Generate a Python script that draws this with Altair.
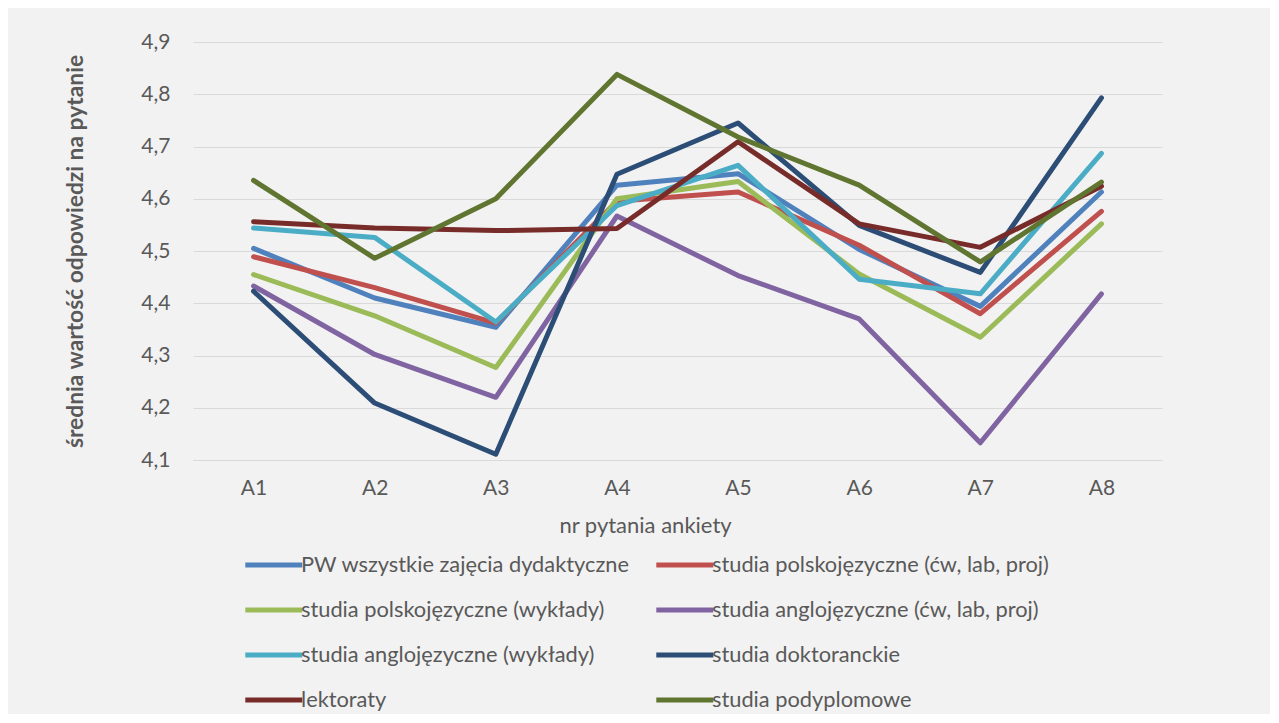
import altair as alt
import pandas as pd

questions = ["A1", "A2", "A3", "A4", "A5", "A6", "A7", "A8"]

series_names = [
    "PW wszystkie zajęcia dydaktyczne",
    "studia polskojęzyczne (ćw, lab, proj)",
    "studia polskojęzyczne (wykłady)",
    "studia anglojęzyczne (ćw, lab, proj)",
    "studia anglojęzyczne (wykłady)",
    "studia doktoranckie",
    "lektoraty",
    "studia podyplomowe",
]

pw_all = [4.505, 4.410, 4.354, 4.626, 4.648, 4.503, 4.394, 4.613]
pl_cw = [4.489, 4.430, 4.362, 4.595, 4.613, 4.511, 4.380, 4.576]
pl_wyk = [4.455, 4.376, 4.277, 4.600, 4.633, 4.456, 4.335, 4.552]
en_cw = [4.433, 4.302, 4.220, 4.567, 4.453, 4.370, 4.133, 4.418]
en_wyk = [4.544, 4.526, 4.364, 4.587, 4.664, 4.446, 4.418, 4.687]
doktor = [4.423, 4.209, 4.111, 4.647, 4.745, 4.549, 4.459, 4.793]
lektor = [4.556, 4.544, 4.539, 4.543, 4.709, 4.552, 4.507, 4.624]
podypl = [4.635, 4.486, 4.600, 4.838, 4.718, 4.626, 4.479, 4.632]

all_values = [pw_all, pl_cw, pl_wyk, en_cw, en_wyk, doktor, lektor, podypl]

colors = ["#4F81BD", "#C0504D", "#9BBB59", "#8064A2", "#4BACC6",
          "#2C4D75", "#772C2A", "#5F7530"]

rows = []
for si, (name, vals) in enumerate(zip(series_names, all_values)):
    for q, v in zip(questions, vals):
        rows.append({"seria": name, "pytanie": q, "wartosc": v, "order": si})
df = pd.DataFrame(rows)

FONT = "Lato"
TXT = "#595959"

chart = alt.Chart(df).mark_line(
    strokeWidth=5, strokeCap="round", strokeJoin="round"
).encode(
    x=alt.X("pytanie:N", sort=questions,
            scale=alt.Scale(type="point", padding=0.5),
            axis=alt.Axis(title="nr pytania ankiety", labelAngle=0,
                          labelPadding=17, ticks=False,
                          titleX=452, titleY=72, titleAlign="center",
                          titleBaseline="alphabetic", titleFontSize=22,
                          domainColor="#D9D9D9", grid=False)),
    y=alt.Y("wartosc:Q",
            scale=alt.Scale(domain=[4.1, 4.9], nice=False, zero=False),
            axis=alt.Axis(title="średnia wartość odpowiedzi na pytanie",
                          values=[4.1, 4.2, 4.3, 4.4, 4.5, 4.6, 4.7, 4.8, 4.9],
                          labelExpr="replace(format(datum.value, '.1f'), '.', ',')",
                          ticks=False, domain=False, labelPadding=23,
                          titleX=-118, titleY=209, titleAngle=270,
                          titleAlign="center", titleBaseline="middle",
                          titleFontWeight="bold", titleFontSize=22.8,
                          gridColor="#D9D9D9")),
    color=alt.Color("seria:N", sort=series_names,
                    scale=alt.Scale(domain=series_names, range=colors),
                    legend=alt.Legend(title=None, orient="none", legendX=84,
                                      legendY=511, columns=2,
                                      direction="horizontal",
                                      symbolType="M-4.6,0H1.4", symbolSize=361,
                                      symbolStrokeWidth=5, labelOffset=0,
                                      rowPadding=21, columnPadding=16,
                                      labelLimit=500, labelFontSize=21.8,
                                      labelColor=TXT, labelFont=FONT,
                                      padding=0)),
    order=alt.Order("order:Q"),
).properties(
    width=969, height=418,
    autosize=alt.AutoSizeParams(type="none"),
    padding={"left": 185, "top": 34, "right": 108, "bottom": 254},
).configure(
    background="#F2F2F2",
    font=FONT,
).configure_view(
    stroke=None
).configure_axis(
    labelFont=FONT, titleFont=FONT, labelColor=TXT, titleColor=TXT,
    labelFontSize=21, titleFontSize=21.5, titleFontWeight="normal",
)

chart.save("out.html", embed_options={"renderer": "svg", "actions": False})
